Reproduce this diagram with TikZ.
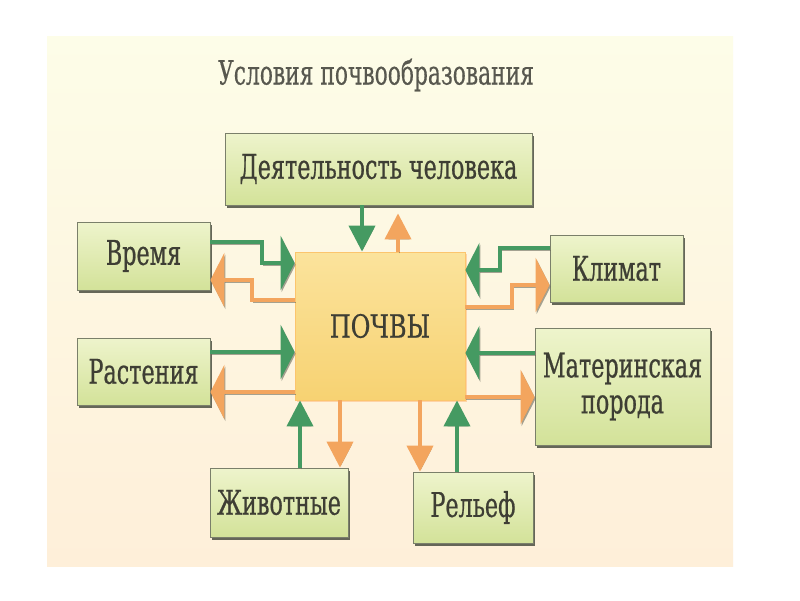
\documentclass[tikz,border=0pt]{standalone}
\usepackage{fontspec}
\setmainfont[FakeStretch=0.655,FakeBold=0.6]{DejaVu Serif}
\newfontfamily\capsfont[FakeStretch=0.75,FakeBold=0.6]{DejaVu Serif}
\newfontfamily\titlefont[FakeStretch=0.65,FakeBold=0.3]{DejaVu Serif}
\usetikzlibrary{arrows.meta,shadows}
\definecolor{bgtop}{HTML}{FDFDE8}
\definecolor{bgbot}{HTML}{FEEFD9}
\definecolor{gtop}{HTML}{EEF4CC}
\definecolor{gbot}{HTML}{D3E299}
\definecolor{ytop}{HTML}{FBE39C}
\definecolor{ybot}{HTML}{F7D272}
\definecolor{boxline}{HTML}{7A7F6A}
\definecolor{boxshadow}{HTML}{55584A}
\definecolor{txt}{HTML}{3E3E34}
\definecolor{ttl}{HTML}{58584F}
\definecolor{garr}{HTML}{459A62}
\definecolor{oarr}{HTML}{F3A55E}
\definecolor{lshadow}{HTML}{6A6A5C}
\tikzset{
  fbox/.style={draw=boxline, line width=0.8pt, top color=gtop, bottom color=gbot,
    text=txt, align=center, inner sep=0pt, font=\fontsize{34}{36}\selectfont,
    drop shadow={shadow xshift=2pt, shadow yshift=-2.5pt, fill=boxshadow, opacity=0.9}},
  soilbox/.style={draw=ytop!70!orange, line width=0.8pt, top color=ytop, bottom color=ybot,
    text=txt, inner sep=0pt, font=\capsfont\fontsize{32}{34}\selectfont,
    drop shadow={shadow xshift=2pt, shadow yshift=-2pt, fill=orange!40, opacity=0.8}},
  conn/.style={line width=4pt, line join=miter,
    preaction={draw=lshadow, opacity=0.6, transform canvas={xshift=1pt,yshift=-1.8pt}}},
  htip/.style={-{Triangle[length=14pt,width=54pt]}},
  vtip/.style={-{Triangle[length=26pt,width=26pt]}},
  gh/.style={conn, draw=garr, htip},
  oh/.style={conn, draw=oarr, htip},
  gv/.style={conn, draw=garr, vtip},
  ov/.style={conn, draw=oarr, vtip},
}
\begin{document}
\begin{tikzpicture}[x=1pt,y=-1pt]
\useasboundingbox (0,0) rectangle (800,600);
\fill[white] (0,0) rectangle (800,600);
\shade[top color=bgtop, bottom color=bgbot] (47,36) rectangle (733,566);

\node[text=ttl, font=\titlefont\fontsize{33.5}{35}\selectfont] (title) at (376,75) {Условия почвообразования};

\node[fbox, minimum width=307, minimum height=72] (act) at (378.5,169) {Деятельность человека};
\node[fbox, minimum width=133, minimum height=68] (vrem) at (143.5,256) {Время};
\node[fbox, minimum width=133, minimum height=67] (rast) at (143.5,371.5) {Растения};
\node[soilbox, minimum width=170, minimum height=148] (soil) at (380,326) {ПОЧВЫ};
\node[fbox, minimum width=133, minimum height=67] (klim) at (616.5,268.5) {Климат};
\node[fbox, minimum width=175, minimum height=117] (mat) at (622.5,386.5) {Материнская\\порода};
\node[fbox, minimum width=138, minimum height=69] (zhiv) at (279,502.5) {Животные};
\node[fbox, minimum width=120, minimum height=71] (rel) at (473,507.5) {Рельеф};

% top
\draw[gv] (act.south -| 362,0) -- (soil.north -| 362,0);
\draw[ov, shorten >=8pt] (soil.north -| 398,0) -- (act.south -| 398,0);
% Время
\draw[gh] (vrem.east |- 0,242) -- (262,242) -- (262,263) -- (soil.west |- 0,263);
\draw[oh] (soil.west |- 0,300) -- (252,300) -- (252,280) -- (vrem.east |- 0,280);
% Растения
\draw[gh] (rast.east |- 0,352) -- (soil.west |- 0,352);
\draw[oh] (soil.west |- 0,392) -- (rast.east |- 0,392);
% Климат
\draw[gh] (klim.west |- 0,248) -- (500,248) -- (500,270) -- (soil.east |- 0,270);
\draw[oh] (soil.east |- 0,307) -- (512,307) -- (512,285) -- (klim.west |- 0,285);
% Материнская порода
\draw[gh] (mat.west |- 0,353) -- (soil.east |- 0,353);
\draw[oh] (soil.east |- 0,397) -- (mat.west |- 0,397);
% Животные
\draw[gv] (zhiv.north -| 300,0) -- (soil.south -| 300,0);
\draw[ov] (soil.south -| 340,0) -- (zhiv.north -| 340,0);
% Рельеф
\draw[ov] (soil.south -| 420,0) -- (rel.north -| 420,0);
\draw[gv] (rel.north -| 457,0) -- (soil.south -| 457,0);
\end{tikzpicture}
\end{document}
